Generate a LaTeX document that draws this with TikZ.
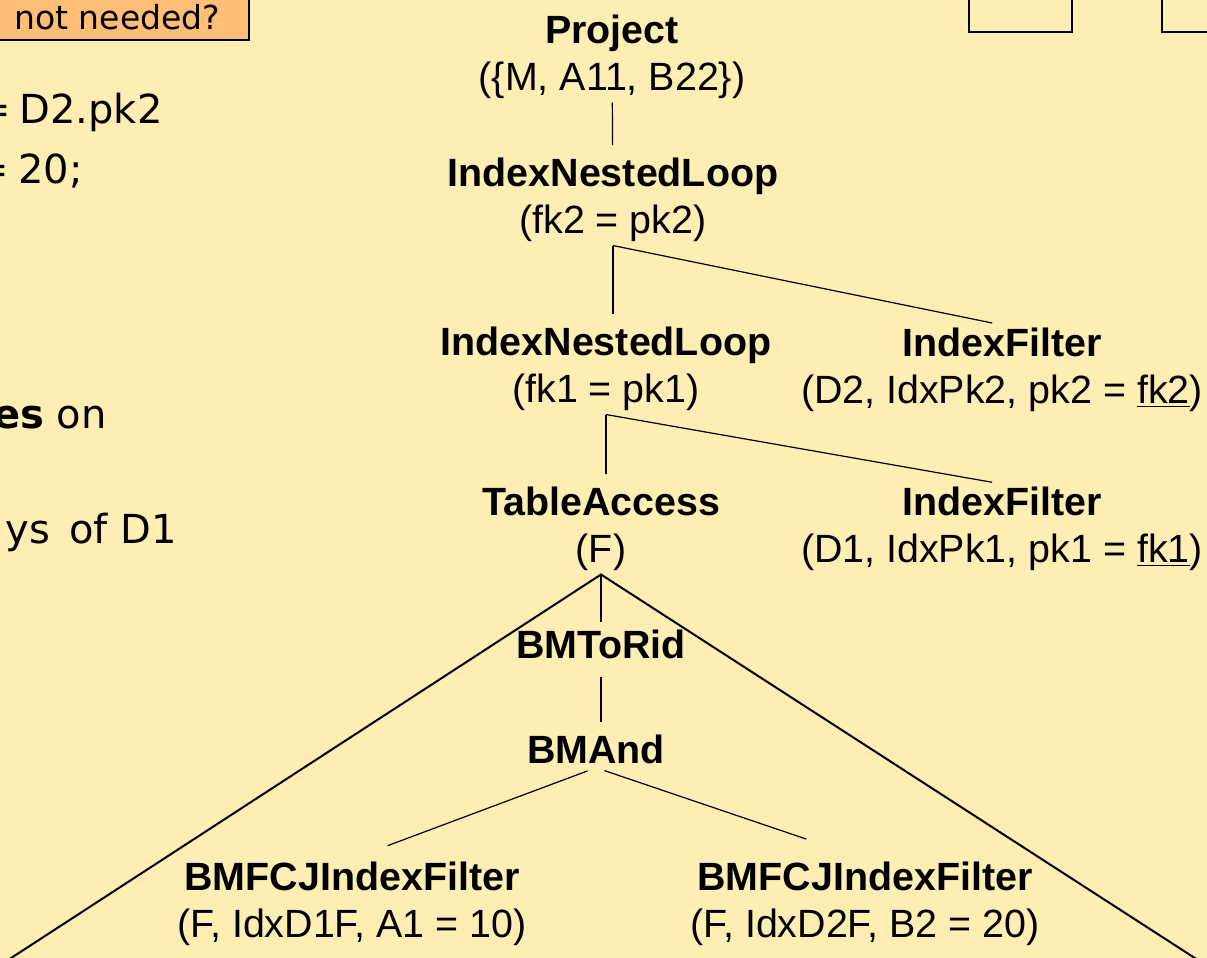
\documentclass[tikz,border=0pt]{standalone}
\usepackage{fontspec}
\setmainfont{Liberation Sans}
\newfontfamily\slidefont{DejaVu Sans}
\usepackage{tikz}
\usetikzlibrary{positioning, calc}
\definecolor{slidebg}{RGB}{255, 238, 180}
\definecolor{noteorange}{RGB}{255, 190, 118}
\tikzstyle{op} = [align=center, inner sep=1.5pt, anchor=north, font=\fontsize{19.7}{23.5}\selectfont]
\tikzstyle{link} = [line width=0.6pt, shorten >=5pt]
\tikzstyle{slidetext} = [anchor=base east, inner sep=0pt, font=\slidefont\fontsize{20}{24}\selectfont]
\tikzstyle{notebox} = [rectangle, draw=black, line width=0.8pt, fill=noteorange, minimum width=132pt, minimum height=23pt, anchor=south east, font=\slidefont\fontsize{16.5}{20}\selectfont]

\begin{document}
\begin{tikzpicture}[x=0.5pt, y=-0.5pt]
\useasboundingbox (0,0) rectangle (1207,958);
\clip (0,0) rectangle (1207,958);
\fill[slidebg] (0,0) rectangle (1207,958);

% slide leftovers
\node[notebox] (note) at (250,41) {not needed?};
\draw[line width=0.8pt] (969,-10) rectangle (1072,32);
\draw[line width=0.8pt] (1162,-10) rectangle (1230,32);
\node[slidetext] (q1) at (163,123) {=\hspace{-2pt} D2.pk2};
\node[slidetext] (q2) at (83,183) {=\hspace{-2pt} 20;};
\node[slidetext] (q3) at (107,428) {\textbf{es} on};
\node[slidetext] (q4) at (177,543) {ys\hspace{3pt} of D1};

% plan operators
\node[op] (project) at (612,12) {\textbf{Project}\\(\{M, A11, B22\})};
\node[op] (inl2) at (613,155) {\textbf{IndexNestedLoop}\\(fk2 = pk2)};
\node[op] (inl1) at (606,324) {\textbf{IndexNestedLoop}\\(fk1 = pk1)};
\node[op] (if2) at (1002,325) {\textbf{IndexFilter}\\(D2, IdxPk2, pk2 = \underline{fk2})};
\node[op] (ta) at (601,484) {\textbf{TableAccess}\\(F)};
\node[op] (if1) at (1002,484) {\textbf{IndexFilter}\\(D1, IdxPk1, pk1 = \underline{fk1})};
\node[op] (bmtorid) at (601,627) {\textbf{BMToRid}};
\node[op] (bmand) at (596,732) {\textbf{BMAnd}};
\node[op] (bmf1) at (352,859) {\textbf{BMFCJIndexFilter}\\(F, IdxD1F, A1 = 10)};
\node[op] (bmf2) at (865,859) {\textbf{BMFCJIndexFilter}\\(F, IdxD2F, B2 = 20)};

% tree edges
\draw[link] (project) -- (inl2);
\draw[link] (inl2.south) -- (inl2.south |- inl1.north);
\draw[link] (inl2.south) -- (if2.north);
\draw[link] (inl1.south) -- (inl1.south |- ta.north);
\draw[link] (inl1.south) -- (if1.north);
\draw[link, shorten >=2.5pt] (ta.south) -- (bmtorid.north);
\draw[link, shorten <=7pt] (bmtorid.south) -- (bmtorid.south |- bmand.north);
\draw[link, shorten <=4.5pt, shorten >=19pt] (bmand.south) -- (bmf1.north);
\draw[link, shorten <=4.5pt, shorten >=31pt] (bmand.south) -- (bmf2.north);

% bitmap subtree
\coordinate (triL) at (5,962);
\coordinate (triR) at (1201,962);
\draw[line width=1pt] (triL) -- (ta.south) -- (triR);
\end{tikzpicture}
\end{document}
